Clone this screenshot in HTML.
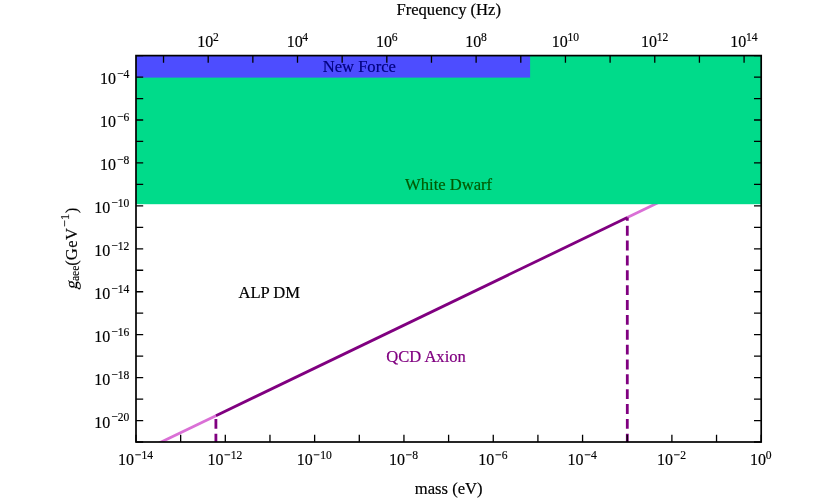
<!DOCTYPE html>
<html><head><meta charset="utf-8"><title>plot</title>
<style>html,body{margin:0;padding:0;background:#fff;}svg{display:block;will-change:transform;}text{font-family:"Liberation Serif",serif;}</style></head>
<body>
<svg width="830" height="498" viewBox="0 0 830 498">
<rect x="0" y="0" width="830" height="498" fill="#fff"/>
<defs><clipPath id="ax"><rect x="136.0" y="55.6" width="625.20" height="386.40"/></clipPath></defs>
<g clip-path="url(#ax)">
<line x1="155.90" y1="444.59" x2="215.9" y2="415.7" stroke="#DA70D6" stroke-width="2.8"/>
<line x1="627.3" y1="217.6" x2="667.30" y2="198.34" stroke="#DA70D6" stroke-width="2.8"/>
<rect x="136.0" y="55.6" width="625.20" height="148.60" fill="#00DB8A"/>
<rect x="136.0" y="55.6" width="394.10" height="22.00" fill="#4D4DFF"/>
<line x1="215.9" y1="415.7" x2="627.3" y2="217.6" stroke="#800080" stroke-width="2.8" stroke-linecap="butt"/>
<line x1="627.3" y1="443.7" x2="627.3" y2="217.6" stroke="#800080" stroke-width="2.8" stroke-dasharray="9.9 4.96"/>
<line x1="215.9" y1="443.7" x2="215.9" y2="415.7" stroke="#800080" stroke-width="2.8" stroke-dasharray="9.9 4.96"/>
</g>
<path d="M136.00 442.0v-7.2M180.66 442.0v-7.2M225.31 442.0v-7.2M269.97 442.0v-7.2M314.63 442.0v-7.2M359.29 442.0v-7.2M403.94 442.0v-7.2M448.60 442.0v-7.2M493.26 442.0v-7.2M537.91 442.0v-7.2M582.57 442.0v-7.2M627.23 442.0v-7.2M671.89 442.0v-7.2M716.54 442.0v-7.2M761.20 442.0v-7.2M163.53 55.6v7.2M208.19 55.6v7.2M252.85 55.6v7.2M297.50 55.6v7.2M342.16 55.6v7.2M386.82 55.6v7.2M431.48 55.6v7.2M476.13 55.6v7.2M520.79 55.6v7.2M565.45 55.6v7.2M610.10 55.6v7.2M654.76 55.6v7.2M699.42 55.6v7.2M744.08 55.6v7.2M136.0 55.60h7.2M761.2 55.60h-7.2M136.0 77.07h7.2M761.2 77.07h-7.2M136.0 98.53h7.2M761.2 98.53h-7.2M136.0 120.00h7.2M761.2 120.00h-7.2M136.0 141.47h7.2M761.2 141.47h-7.2M136.0 162.93h7.2M761.2 162.93h-7.2M136.0 184.40h7.2M761.2 184.40h-7.2M136.0 205.87h7.2M761.2 205.87h-7.2M136.0 227.33h7.2M761.2 227.33h-7.2M136.0 248.80h7.2M761.2 248.80h-7.2M136.0 270.27h7.2M761.2 270.27h-7.2M136.0 291.73h7.2M761.2 291.73h-7.2M136.0 313.20h7.2M761.2 313.20h-7.2M136.0 334.67h7.2M761.2 334.67h-7.2M136.0 356.13h7.2M761.2 356.13h-7.2M136.0 377.60h7.2M761.2 377.60h-7.2M136.0 399.07h7.2M761.2 399.07h-7.2M136.0 420.53h7.2M761.2 420.53h-7.2M136.0 442.00h7.2M761.2 442.00h-7.2" stroke="#000" stroke-width="1.3" fill="none"/>
<rect x="136.0" y="55.6" width="625.20" height="386.40" fill="none" stroke="#000" stroke-width="1.7"/>
<text transform="translate(135.60 464.90) scale(1 1.05)" x="0" y="0" font-size="16.0" text-anchor="middle" stroke="#000" stroke-width="0.15">10<tspan font-size="11.6" dx="0.9" dy="-5.76">−14</tspan></text>
<text transform="translate(224.91 464.90) scale(1 1.05)" x="0" y="0" font-size="16.0" text-anchor="middle" stroke="#000" stroke-width="0.15">10<tspan font-size="11.6" dx="0.9" dy="-5.76">−12</tspan></text>
<text transform="translate(314.23 464.90) scale(1 1.05)" x="0" y="0" font-size="16.0" text-anchor="middle" stroke="#000" stroke-width="0.15">10<tspan font-size="11.6" dx="0.9" dy="-5.76">−10</tspan></text>
<text transform="translate(403.54 464.90) scale(1 1.05)" x="0" y="0" font-size="16.0" text-anchor="middle" stroke="#000" stroke-width="0.15">10<tspan font-size="11.6" dx="0.9" dy="-5.76">−8</tspan></text>
<text transform="translate(492.86 464.90) scale(1 1.05)" x="0" y="0" font-size="16.0" text-anchor="middle" stroke="#000" stroke-width="0.15">10<tspan font-size="11.6" dx="0.9" dy="-5.76">−6</tspan></text>
<text transform="translate(582.17 464.90) scale(1 1.05)" x="0" y="0" font-size="16.0" text-anchor="middle" stroke="#000" stroke-width="0.15">10<tspan font-size="11.6" dx="0.9" dy="-5.76">−4</tspan></text>
<text transform="translate(671.49 464.90) scale(1 1.05)" x="0" y="0" font-size="16.0" text-anchor="middle" stroke="#000" stroke-width="0.15">10<tspan font-size="11.6" dx="0.9" dy="-5.76">−2</tspan></text>
<text transform="translate(760.80 464.90) scale(1 1.05)" x="0" y="0" font-size="16.0" text-anchor="middle" stroke="#000" stroke-width="0.15">10<tspan font-size="11.6" dx="-0.3" dy="-5.76">0</tspan></text>
<text transform="translate(208.09 46.90) scale(1 1.11)" x="0" y="0" font-size="16.0" text-anchor="middle" stroke="#000" stroke-width="0.15">10<tspan font-size="11.6" dx="-0.3" dy="-5.45">2</tspan></text>
<text transform="translate(297.40 46.90) scale(1 1.11)" x="0" y="0" font-size="16.0" text-anchor="middle" stroke="#000" stroke-width="0.15">10<tspan font-size="11.6" dx="-0.3" dy="-5.45">4</tspan></text>
<text transform="translate(386.72 46.90) scale(1 1.11)" x="0" y="0" font-size="16.0" text-anchor="middle" stroke="#000" stroke-width="0.15">10<tspan font-size="11.6" dx="-0.3" dy="-5.45">6</tspan></text>
<text transform="translate(476.03 46.90) scale(1 1.11)" x="0" y="0" font-size="16.0" text-anchor="middle" stroke="#000" stroke-width="0.15">10<tspan font-size="11.6" dx="-0.3" dy="-5.45">8</tspan></text>
<text transform="translate(565.35 46.90) scale(1 1.11)" x="0" y="0" font-size="16.0" text-anchor="middle" stroke="#000" stroke-width="0.15">10<tspan font-size="11.6" dx="-0.3" dy="-5.45">10</tspan></text>
<text transform="translate(654.66 46.90) scale(1 1.11)" x="0" y="0" font-size="16.0" text-anchor="middle" stroke="#000" stroke-width="0.15">10<tspan font-size="11.6" dx="-0.3" dy="-5.45">12</tspan></text>
<text transform="translate(743.98 46.90) scale(1 1.11)" x="0" y="0" font-size="16.0" text-anchor="middle" stroke="#000" stroke-width="0.15">10<tspan font-size="11.6" dx="-0.3" dy="-5.45">14</tspan></text>
<text transform="translate(129.30 84.07) scale(1 1.11)" x="0" y="0" font-size="16.0" text-anchor="end" stroke="#000" stroke-width="0.15">10<tspan font-size="11.6" dx="0.9" dy="-5.45">−4</tspan></text>
<text transform="translate(129.30 127.00) scale(1 1.11)" x="0" y="0" font-size="16.0" text-anchor="end" stroke="#000" stroke-width="0.15">10<tspan font-size="11.6" dx="0.9" dy="-5.45">−6</tspan></text>
<text transform="translate(129.30 169.93) scale(1 1.11)" x="0" y="0" font-size="16.0" text-anchor="end" stroke="#000" stroke-width="0.15">10<tspan font-size="11.6" dx="0.9" dy="-5.45">−8</tspan></text>
<text transform="translate(129.30 212.87) scale(1 1.11)" x="0" y="0" font-size="16.0" text-anchor="end" stroke="#000" stroke-width="0.15">10<tspan font-size="11.6" dx="0.9" dy="-5.45">−10</tspan></text>
<text transform="translate(129.30 255.80) scale(1 1.11)" x="0" y="0" font-size="16.0" text-anchor="end" stroke="#000" stroke-width="0.15">10<tspan font-size="11.6" dx="0.9" dy="-5.45">−12</tspan></text>
<text transform="translate(129.30 298.73) scale(1 1.11)" x="0" y="0" font-size="16.0" text-anchor="end" stroke="#000" stroke-width="0.15">10<tspan font-size="11.6" dx="0.9" dy="-5.45">−14</tspan></text>
<text transform="translate(129.30 341.67) scale(1 1.11)" x="0" y="0" font-size="16.0" text-anchor="end" stroke="#000" stroke-width="0.15">10<tspan font-size="11.6" dx="0.9" dy="-5.45">−16</tspan></text>
<text transform="translate(129.30 384.60) scale(1 1.11)" x="0" y="0" font-size="16.0" text-anchor="end" stroke="#000" stroke-width="0.15">10<tspan font-size="11.6" dx="0.9" dy="-5.45">−18</tspan></text>
<text transform="translate(129.30 427.53) scale(1 1.11)" x="0" y="0" font-size="16.0" text-anchor="end" stroke="#000" stroke-width="0.15">10<tspan font-size="11.6" dx="0.9" dy="-5.45">−20</tspan></text>
<text transform="translate(448.7 14.7) scale(1 1.035)" x="0" y="0" font-size="16.6" text-anchor="middle" fill="#000" stroke="#000" stroke-width="0.2">Frequency (Hz)</text>
<text transform="translate(448.7 494.1) scale(1 1.035)" x="0" y="0" font-size="16.6" text-anchor="middle" fill="#000" stroke="#000" stroke-width="0.2">mass (eV)</text>
<text transform="translate(359.3 71.7) scale(1 1.035)" x="0" y="0" font-size="16.6" text-anchor="middle" fill="#00007F" stroke="#00007F" stroke-width="0.2">New Force</text>
<text transform="translate(448.6 189.6) scale(1 1.035)" x="0" y="0" font-size="16.6" text-anchor="middle" fill="#005A00" stroke="#005A00" stroke-width="0.2">White Dwarf</text>
<text transform="translate(269.3 297.7) scale(1 1.035)" x="0" y="0" font-size="16.6" text-anchor="middle" fill="#000" stroke="#000" stroke-width="0.2">ALP DM</text>
<text transform="translate(426.0 361.8) scale(1 1.035)" x="0" y="0" font-size="16.6" text-anchor="middle" fill="#800080" stroke="#800080" stroke-width="0.2">QCD Axion</text>
<g transform="translate(77.1 289.6) rotate(-90) scale(1 1.035)" font-size="16.6" stroke="#000" stroke-width="0.15"><text x="0" y="0" transform="skewX(-12)">g</text><text x="8.5" y="0"><tspan font-size="11.6" dy="2.2">aee</tspan><tspan dy="-2.2">(G</tspan><tspan dx="0.5">e</tspan><tspan dx="0.4">V</tspan><tspan font-size="12.3" dx="0.9" dy="-7.8">−1</tspan><tspan dy="7.8" dx="0.6">)</tspan></text></g>
</svg></body></html>
